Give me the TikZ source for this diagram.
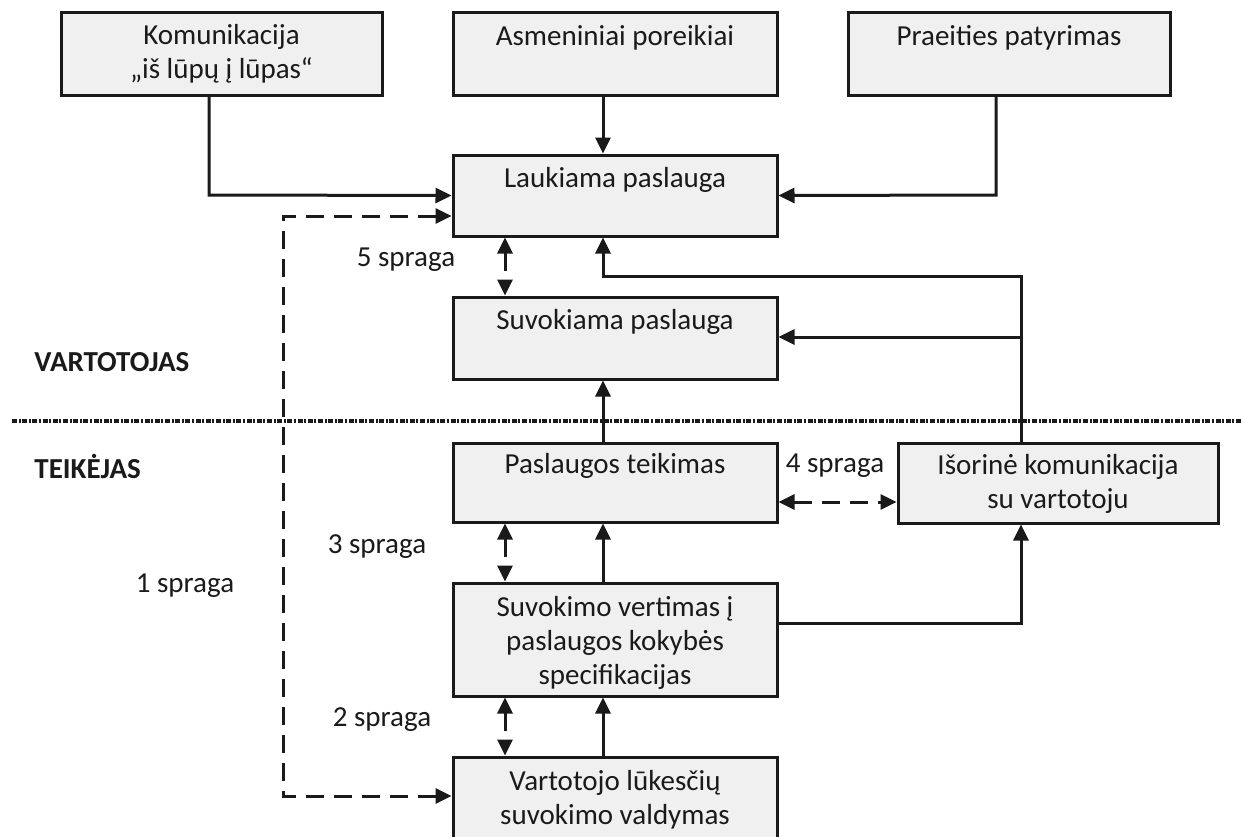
\documentclass[tikz,border=0pt]{standalone}
\usepackage{fontspec}
\setmainfont{Carlito}
\usetikzlibrary{arrows.meta}
\definecolor{boxgray}{HTML}{F0F0F0}
\definecolor{ink}{HTML}{1A1A1A}
\begin{document}
\begin{tikzpicture}[x=0.5pt,y=-0.5pt,
  >={Triangle[length=8pt,width=7.5pt]},
  box/.style={draw=ink, fill=boxgray, line width=1.5pt, rectangle, inner sep=0pt},
  txt/.style={align=center, inner sep=0pt, text=ink, font=\fontsize{14.5}{17}\selectfont},
  lbl/.style={inner sep=0pt, text=ink, font=\fontsize{14.5}{17}\selectfont},
  side/.style={inner sep=0pt, anchor=west, text=ink, font=\fontsize{14.5}{17}\selectfont\bfseries},
  conn/.style={draw=ink, line width=1.5pt},
  dashline/.style={draw=ink, line width=1.5pt, dash pattern=on 9pt off 5pt},
  sepline/.style={draw=ink, line width=1.8pt, dash pattern=on 2.5pt off 0.8pt on 1pt off 0.8pt}
]
\useasboundingbox[fill=white] (0,0) rectangle (1243,836);

% boxes
\node[box, minimum width=160.5pt, minimum height=41.5pt] (kom)  at (221.5,53.5) {};
\node[box, minimum width=162pt,   minimum height=41.5pt] (asm)  at (615,53.5) {};
\node[box, minimum width=161pt,   minimum height=41.5pt] (pra)  at (1009,53.5) {};
\node[box, minimum width=162pt,   minimum height=40.5pt] (lauk) at (615,195.5) {};
\node[box, minimum width=162pt,   minimum height=41pt]   (suvk) at (615,338) {};
\node[box, minimum width=162pt,   minimum height=39.5pt] (tei)  at (615,482.5) {};
\node[box, minimum width=160pt,   minimum height=40pt]   (isor) at (1058,483) {};
\node[box, minimum width=162pt,   minimum height=56.5pt] (vert) at (615,639.5) {};
\node[box, minimum width=162pt,   minimum height=41.5pt] (valt) at (615,798.5) {};

% box texts
\node[txt] (kom-t)  at (221.5,54) {Komunikacija\\„iš lūpų į lūpas“};
\node[txt] (asm-t)  at (615,38)   {Asmeniniai poreikiai};
\node[txt] (pra-t)  at (1009,38)  {Praeities patyrimas};
\node[txt] (lauk-t) at (615,180)  {Laukiama paslauga};
\node[txt] (suvk-t) at (615,322)  {Suvokiama paslauga};
\node[txt] (tei-t)  at (615,466)  {Paslaugos teikimas};
\node[txt] (isor-t) at (1058,484) {Išorinė komunikacija\\su vartotoju};
\node[txt] (vert-t) at (615,643)  {Suvokimo vertimas į\\paslaugos kokybės\\specifikacijas};
\node[txt] (valt-t) at (615,799.5) {Vartotojo lūkesčių\\suvokimo valdymas};

% side labels and gap labels
\node[side] (vart) at (34,362) {VARTOTOJAS};
\node[side] (teik) at (34,466) {TEIKĖJAS};
\node[lbl] (g5l) at (406,260) {5 spraga};
\node[lbl] (g4l) at (835,466) {4 spraga};
\node[lbl] (g3l) at (377,547) {3 spraga};
\node[lbl] (g1l) at (185,586) {1 spraga};
\node[lbl] (g2l) at (382,720) {2 spraga};

% helper coordinates
\coordinate (colA) at (603,0);
\coordinate (colB) at (505,0);
\coordinate (k1) at (209,195);
\coordinate (p1) at (996,195);
\coordinate (d1) at (283,216);
\coordinate (d2) at (283,796);
\coordinate (r1) at (1021,276);
\coordinate (r2) at (1021,337);
\coordinate (g4) at (0,502);
\coordinate (v1) at (1021,623);
\coordinate (s1) at (12,421);
\coordinate (s2) at (1243,421);

% separator
\draw[sepline] (s1) -- (s2);

% connectors
\draw[conn,->] (kom.south -| k1) -- (k1) -- (lauk.west);
\draw[conn,->] (asm.south -| colA) -- (lauk.north -| colA);
\draw[conn,->] (pra.south -| p1) -- (p1) -- (lauk.east);
\draw[dashline,<->] (lauk.west |- d1) -- (d1) -- (d2) -- (valt.west |- d2);
\draw[dashline,<->] (lauk.south -| colB) -- (suvk.north -| colB);
\draw[conn,->] (isor.north -| r1) -- (r1) -- (r1 -| colA) -- (lauk.south -| colA);
\draw[conn,->] (r2) -- (suvk.east |- r2);
\draw[conn,->] (tei.north -| colA) -- (suvk.south -| colA);
\draw[dashline,<->] (tei.east |- g4) -- (isor.west |- g4);
\draw[dashline,<->] (tei.south -| colB) -- (vert.north -| colB);
\draw[conn,->] (vert.north -| colA) -- (tei.south -| colA);
\draw[conn,->] (vert.east |- v1) -- (v1) -- (isor.south -| v1);
\draw[dashline,<->] (vert.south -| colB) -- (valt.north -| colB);
\draw[conn,->] (valt.north -| colA) -- (vert.south -| colA);
\end{tikzpicture}
\end{document}
